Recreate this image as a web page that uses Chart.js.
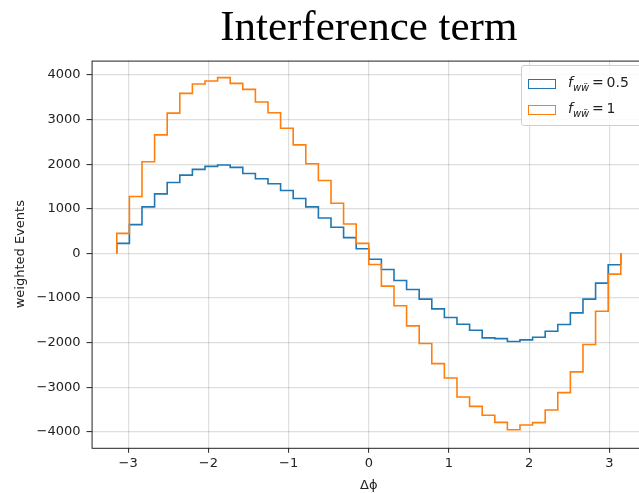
<!DOCTYPE html>
<html>
<head>
<meta charset="utf-8">
<script src="https://cdn.jsdelivr.net/npm/chart.js@4"></script>
<style>
  body { margin: 0; overflow: hidden; background: #fff; }
  #wrap { position: relative; width: 650px; height: 493px; }
  #legend {
    position: absolute; left: 521px; top: 65px; width: 130px; height: 59px;
    border: 1px solid #d0d0d0; border-radius: 3px; background: rgba(255,255,255,0.85);
    font-family: "DejaVu Sans", sans-serif; font-size: 14px; color: #222;
  }
  #legend .row { position: absolute; left: 6px; height: 17px; display: flex; align-items: center; }
  #legend .sw { width: 26px; height: 8px; border: 1.5px solid; margin-right: 12px; }
  #legend sub { font-size: 10px; }
</style>
</head>
<body>
<div id="wrap">
  <canvas id="hist" width="650" height="493"></canvas>
  <div id="legend"></div>
</div>
<script>
// histogram binning on delta phi
let nBins = 40
let xLo = -Math.PI
let xHi = Math.PI

// bin contents
let fValues = [0.5, 1]
let weights05 = [225, 645, 1043, 1335, 1590, 1755, 1883, 1950, 1980, 1928,
    1790, 1673, 1560, 1410, 1230, 1043, 795, 585, 353, 105,
    -130, -359, -606, -808, -1025, -1242, -1436, -1586, -1720, -1892,
    -1910, -1975, -1937, -1877, -1743, -1593, -1331, -1025, -666, -254]
let weights1 = [450, 1275, 2055, 2655, 3143, 3585, 3795, 3863, 3938, 3810,
    3676, 3391, 3151, 2806, 2431, 2010, 1635, 1125, 660, 225,
    -247, -733, -1174, -1623, -2019, -2468, -2790, -3216, -3426, -3627,
    -3785, -3949, -3845, -3792, -3508, -3119, -2655, -2042, -1294, -464]
let xTicks = [-3, -2, -1, 0, 1, 2, 3]
let yTicks = [-4000, -3000, -2000, -1000, 0, 1000, 2000, 3000, 4000]

// outline like matplotlib histtype='step'
function stepPoints(vals) {
    let w = (xHi - xLo) / nBins
    let pts = [{x: xLo, y: 0}]
    for (let i = 0; i < vals.length; i++) {
        pts.push({x: xLo + i * w, y: vals[i]})
    }
    pts.push({x: xHi, y: 0})
    return pts
}

const frame = {
    id: 'frame',
    afterDraw(chart) {
        const {ctx, chartArea: a} = chart
        ctx.save()
        ctx.strokeStyle = '#222'
        ctx.lineWidth = 1
        ctx.strokeRect(a.left + 0.5, a.top + 0.5, a.right - a.left, a.bottom - a.top)
        ctx.restore()
    }
}

const htmlLegend = {
    id: 'htmlLegend',
    afterUpdate(chart) {
        const box = document.getElementById('legend')
        box.innerHTML = ''
        chart.data.datasets.forEach((ds, i) => {
            const row = document.createElement('div')
            row.className = 'row'
            row.style.top = (9 + i * 26) + 'px'
            row.innerHTML = '<span class="sw" style="border-color:' + ds.borderColor + '"></span>' +
                '<span><i>f</i><sub><i>wẅ</i></sub>\u2009=\u2009' + fValues[i] + '</span>'
            box.appendChild(row)
        })
    }
}

let tickFont = {family: 'DejaVu Sans', size: 13}

new Chart(document.getElementById('hist'), {
    type: 'line',
    data: {
        datasets: [
            {
                label: 'f = ' + fValues[0],
                data: stepPoints(weights05),
                borderColor: '#1f77b4',
                borderWidth: 1.6,
                stepped: 'before',
                pointRadius: 0,
                fill: false,
                order: 1
            },
            {
                label: 'f = ' + fValues[1],
                data: stepPoints(weights1),
                borderColor: '#ff7f0e',
                borderWidth: 1.6,
                stepped: 'before',
                pointRadius: 0,
                fill: false,
                order: 0
            }
        ]
    },
    options: {
        responsive: false,
        animation: false,
        layout: {padding: {left: 7, right: 4, top: 0, bottom: 0}},
        plugins: {
            legend: {display: false},
            tooltip: {enabled: false},
            title: {
                display: true,
                fullSize: false,
                text: 'Interference term',
                color: '#000',
                font: {family: 'Liberation Serif', size: 43, weight: 'normal', lineHeight: 1.2},
                padding: {top: 3, bottom: 6}
            }
        },
        scales: {
            x: {
                type: 'linear',
                min: -3.456,
                max: 3.456,
                afterBuildTicks: s => { s.ticks = xTicks.map(v => ({value: v})) },
                ticks: {font: tickFont, color: '#222', padding: 3, callback: v => String(v).replace('-', '\u2212')},
                grid: {color: 'rgba(0,0,0,0.13)', lineWidth: 1.2, tickColor: '#222', tickLength: 5, tickWidth: 1},
                border: {display: false},
                title: {display: true, text: 'Δϕ', font: {family: 'DejaVu Sans', size: 13}, color: '#222', padding: {top: 3, bottom: 0}}
            },
            y: {
                min: -4355,
                max: 4320,
                afterBuildTicks: s => { s.ticks = yTicks.map(v => ({value: v})) },
                ticks: {font: tickFont, color: '#222', padding: 6, callback: v => String(v).replace('-', '\u2212')},
                grid: {color: 'rgba(0,0,0,0.13)', lineWidth: 1.2, tickColor: '#222', tickLength: 5, tickWidth: 1},
                border: {display: false},
                title: {display: true, text: 'weighted Events', font: {family: 'DejaVu Sans', size: 13}, color: '#222', padding: {top: 6, bottom: 2}}
            }
        }
    },
    plugins: [frame, htmlLegend]
});
</script>
</body>
</html>
